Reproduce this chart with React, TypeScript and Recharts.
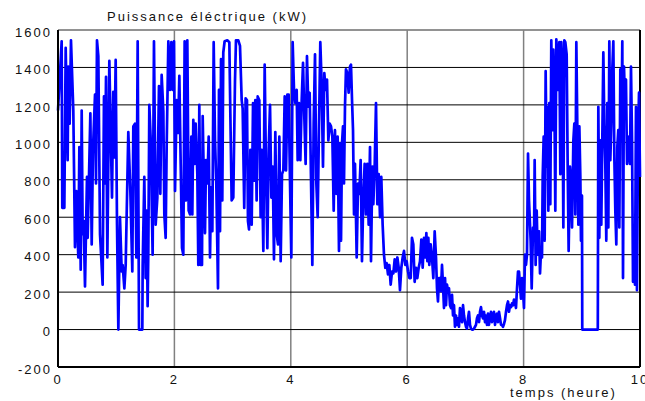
import { LineChart, Line, XAxis, YAxis, CartesianGrid, ReferenceLine } from 'recharts'

// each sample is [hour, kW]
type Sample = [number, number]

const hourTicks = [0, 2, 4, 6, 8, 10]
const kwTicks = [-200, 0, 200, 400, 600, 800, 1000, 1200, 1400, 1600]

const hours0to2: Sample[] = [
  [0.0, 1170], [0.063, 1540], [0.074, 650], [0.109, 650], [0.132, 1505], [0.166, 905], [0.178, 1405],
  [0.2, 1100], [0.223, 1545], [0.263, 1170], [0.292, 440], [0.315, 740], [0.349, 385], [0.367, 975],
  [0.39, 320], [0.407, 1170], [0.424, 510], [0.441, 580], [0.464, 230], [0.498, 815], [0.51, 490],
  [0.556, 1155], [0.579, 455], [0.601, 960], [0.636, 1255], [0.653, 780], [0.67, 1545], [0.693, 1460],
  [0.722, 510], [0.767, 240], [0.79, 1245], [0.807, 780], [0.825, 1350], [0.848, 385], [0.882, 1435],
  [0.928, 705], [0.95, 1270], [0.968, 920], [0.991, 1440], [1.014, 560], [1.037, 0], [1.065, 600],
  [1.094, 310], [1.111, 345], [1.14, 220], [1.163, 345], [1.208, 1055], [1.243, 740], [1.277, 310],
  [1.294, 1085], [1.323, 1100], [1.346, 385], [1.369, 1540], [1.392, 0], [1.449, 0], [1.455, 345],
  [1.483, 815], [1.506, 275], [1.523, 635], [1.54, 125], [1.552, 420], [1.569, 1200], [1.598, 975],
  [1.61, 690], [1.626, 400], [1.649, 1540], [1.678, 560], [1.707, 705], [1.735, 1300], [1.758, 725],
  [1.781, 1360], [1.81, 1165], [1.827, 615], [1.85, 490], [1.867, 975], [1.896, 1540], [1.924, 1280],
  [1.947, 1535], [1.97, 1280], [1.993, 1540],
]

const hours2to4: Sample[] = [
  [2.011, 740], [2.039, 1225], [2.062, 1050], [2.085, 1355], [2.108, 885], [2.131, 435], [2.153, 400],
  [2.176, 1540], [2.199, 690], [2.222, 1545], [2.245, 635], [2.268, 615], [2.291, 1030], [2.308, 615],
  [2.325, 1120], [2.348, 885], [2.365, 1100], [2.394, 830], [2.411, 345], [2.428, 1200], [2.451, 345],
  [2.474, 345], [2.486, 1140], [2.509, 740], [2.526, 515], [2.543, 905], [2.566, 780], [2.589, 1030],
  [2.612, 385], [2.629, 760], [2.652, 525], [2.675, 1535], [2.698, 1010], [2.72, 780], [2.749, 220],
  [2.766, 1280], [2.784, 525], [2.801, 1445], [2.823, 690], [2.84, 1480], [2.863, 1540], [2.909, 1545],
  [2.944, 1535], [2.961, 1155], [2.984, 690], [3.012, 705], [3.041, 1325], [3.058, 1545], [3.098, 1545],
  [3.127, 1515], [3.156, 1225], [3.173, 1180], [3.2, 650], [3.224, 1235], [3.247, 1225], [3.264, 580],
  [3.282, 535], [3.305, 960], [3.328, 560], [3.351, 1210], [3.373, 795], [3.39, 1225], [3.413, 690],
  [3.431, 1245], [3.459, 1225], [3.482, 600], [3.499, 960], [3.528, 420], [3.551, 1415], [3.574, 850],
  [3.597, 435], [3.62, 960], [3.643, 1200], [3.666, 705], [3.689, 870], [3.711, 375], [3.734, 1055],
  [3.757, 510], [3.78, 455], [3.803, 1030], [3.826, 365], [3.849, 830], [3.872, 850], [3.895, 1245],
  [3.918, 850], [3.941, 1255], [3.963, 1255], [3.986, 795],
]

const hours4to6: Sample[] = [
  [4.009, 385], [4.032, 1535], [4.055, 1280], [4.078, 1210], [4.101, 1280], [4.118, 905], [4.141, 1210],
  [4.164, 905], [4.187, 1225], [4.21, 1425], [4.232, 1140], [4.255, 885], [4.278, 1460], [4.301, 1190],
  [4.324, 1265], [4.347, 805], [4.37, 345], [4.393, 1100], [4.416, 1470], [4.439, 780], [4.462, 600],
  [4.485, 1100], [4.507, 1535], [4.53, 1315], [4.553, 870], [4.576, 1370], [4.599, 1280], [4.622, 1335],
  [4.645, 1010], [4.668, 1100], [4.691, 1085], [4.714, 1030], [4.737, 635], [4.759, 1065], [4.782, 725],
  [4.805, 1030], [4.828, 420], [4.845, 995], [4.863, 475], [4.88, 995], [4.897, 1085], [4.914, 780],
  [4.931, 1190], [4.948, 1390], [4.971, 1370], [4.994, 1265], [5.017, 1405], [5.034, 1415], [5.052, 1225],
  [5.069, 1065], [5.086, 615], [5.103, 885], [5.12, 600], [5.132, 385], [5.155, 780], [5.177, 725],
  [5.2, 905], [5.223, 365], [5.246, 705], [5.269, 885], [5.292, 615], [5.315, 885], [5.338, 560],
  [5.361, 975], [5.378, 365], [5.401, 870], [5.418, 670], [5.441, 870], [5.464, 1210], [5.487, 670],
  [5.51, 830], [5.533, 600], [5.555, 815], [5.578, 560], [5.601, 400], [5.624, 330], [5.647, 355],
  [5.67, 295], [5.693, 345], [5.716, 240], [5.739, 310], [5.762, 300], [5.785, 375], [5.808, 310],
  [5.831, 385], [5.854, 330], [5.876, 210], [5.899, 330], [5.922, 385], [5.945, 420], [5.968, 345],
  [5.991, 365],
]

const hours6to8: Sample[] = [
  [6.014, 310], [6.037, 275], [6.06, 275], [6.082, 490], [6.105, 455], [6.128, 255], [6.151, 330],
  [6.174, 275], [6.197, 330], [6.22, 365], [6.243, 480], [6.266, 330], [6.289, 490], [6.312, 385],
  [6.329, 515], [6.346, 365], [6.363, 490], [6.38, 345], [6.403, 455], [6.426, 385], [6.449, 275],
  [6.472, 525], [6.495, 385], [6.512, 220], [6.529, 150], [6.546, 275], [6.564, 275], [6.581, 205],
  [6.598, 345], [6.615, 240], [6.632, 115], [6.65, 275], [6.667, 130], [6.684, 240], [6.701, 205],
  [6.718, 220], [6.735, 130], [6.753, 115], [6.77, 185], [6.787, 75], [6.804, 130], [6.821, 15],
  [6.838, 75], [6.856, 25], [6.873, 60], [6.89, 15], [6.907, 115], [6.924, 95], [6.942, 40], [6.959, 130],
  [6.976, 75], [6.993, 40], [7.01, 15], [7.027, 5], [7.045, 60], [7.062, 95], [7.079, 25], [7.096, 5],
  [7.113, 0], [7.131, 0], [7.148, 5], [7.165, 15], [7.182, 25], [7.199, 60], [7.216, 75], [7.234, 40],
  [7.251, 95], [7.268, 120], [7.285, 75], [7.302, 60], [7.32, 95], [7.337, 40], [7.354, 75], [7.371, 25],
  [7.388, 85], [7.405, 25], [7.423, 70], [7.44, 95], [7.457, 40], [7.474, 75], [7.491, 95], [7.509, 25],
  [7.526, 75], [7.543, 85], [7.56, 40], [7.577, 95], [7.595, 60], [7.612, 25], [7.629, 25], [7.646, 15],
  [7.663, 30], [7.68, 50], [7.698, 95], [7.715, 130], [7.732, 150], [7.749, 95], [7.766, 130],
  [7.784, 120], [7.801, 140], [7.818, 130], [7.835, 160], [7.852, 150], [7.869, 115], [7.887, 220],
  [7.904, 310], [7.921, 310], [7.938, 240], [7.955, 165], [7.973, 275], [7.99, 205],
]

const hours8to10: Sample[] = [
  [8.007, 115], [8.024, 400], [8.041, 345], [8.058, 400], [8.076, 940], [8.093, 690], [8.121, 475],
  [8.139, 220], [8.162, 545], [8.179, 475], [8.19, 905], [8.207, 345], [8.225, 635], [8.242, 400],
  [8.265, 525], [8.282, 300], [8.299, 420], [8.316, 385], [8.328, 815], [8.345, 1030], [8.362, 475],
  [8.379, 1380], [8.396, 870], [8.408, 1190], [8.425, 635], [8.442, 1210], [8.459, 670], [8.476, 1545],
  [8.494, 1065], [8.511, 1495], [8.528, 1280], [8.545, 635], [8.562, 1550], [8.58, 1460], [8.597, 1280],
  [8.614, 1535], [8.631, 830], [8.648, 1535], [8.666, 1405], [8.683, 545], [8.7, 1545], [8.717, 1535],
  [8.74, 1470], [8.757, 885], [8.774, 420], [8.797, 870], [8.814, 795], [8.832, 545], [8.855, 1010],
  [8.872, 1100], [8.889, 615], [8.906, 1535], [8.923, 1085], [8.941, 560], [8.958, 1085], [8.975, 815],
  [8.986, 475], [9.003, 715], [9.008, 0], [9.275, 0], [9.284, 1190], [9.301, 490], [9.318, 1010],
  [9.335, 560], [9.352, 1010], [9.37, 1480], [9.387, 1100], [9.404, 885], [9.421, 475], [9.438, 1210],
  [9.456, 545], [9.473, 1540], [9.49, 905], [9.507, 1100], [9.524, 1390], [9.542, 1540], [9.559, 920],
  [9.576, 635], [9.593, 455], [9.61, 975], [9.627, 1065], [9.645, 545], [9.662, 1390], [9.679, 1010],
  [9.696, 1540], [9.708, 275], [9.725, 1405], [9.742, 1210], [9.759, 1335], [9.777, 885], [9.794, 1030],
  [9.811, 960], [9.828, 885], [9.845, 1405], [9.863, 1010], [9.88, 255], [9.897, 400], [9.914, 240],
  [9.931, 1190], [9.948, 210], [9.966, 1010], [9.983, 1265], [10.0, 815],
]

const data = [...hours0to2, ...hours2to4, ...hours4to6, ...hours6to8, ...hours8to10].map(([t, p]) => ({ t, p }))

const font = '"Liberation Sans", Arial, sans-serif'

export default function App() {
  return (
    <div
      style={{
        position: 'absolute',
        left: 0,
        top: 0,
        width: 645,
        height: 401,
        background: '#fff',
        fontFamily: font,
        letterSpacing: 2,
        color: '#111',
      }}
    >
      <LineChart width={645} height={401} data={data} margin={{ top: 30, right: 5, bottom: 4, left: 8 }}>
        <CartesianGrid horizontal={false} vertical stroke="#808080" strokeWidth={1.5} />
        <CartesianGrid horizontal vertical={false} stroke="#000" strokeWidth={1} />
        <ReferenceLine y={1600} stroke="#999" strokeWidth={1.5} />
        <ReferenceLine x={10} stroke="#000" strokeWidth={2} />
        <XAxis
          dataKey="t"
          type="number"
          domain={[0, 10]}
          ticks={hourTicks}
          interval={0}
          height={30}
          tickLine={false}
          axisLine={{ stroke: '#000', strokeWidth: 2 }}
          tick={{ fontSize: 13, fill: '#111' }}
        />
        <YAxis
          type="number"
          domain={[-200, 1600]}
          ticks={kwTicks}
          interval={0}
          width={50}
          tickLine={false}
          tickMargin={0}
          axisLine={{ stroke: '#000', strokeWidth: 2 }}
          tick={{ fontSize: 13, fill: '#111', dy: 2 }}
        />
        <Line
          type="linear"
          dataKey="p"
          stroke="#0000ff"
          strokeWidth={2.7}
          strokeLinejoin="round"
          dot={false}
          isAnimationActive={false}
        />
      </LineChart>
      <div style={{ position: 'absolute', left: 107, top: 9.5, fontSize: 13, lineHeight: '13px', whiteSpace: 'nowrap' }}>
        Puissance éléctrique (kW)
      </div>
      <div style={{ position: 'absolute', left: 510, top: 385.5, fontSize: 13, lineHeight: '13px', whiteSpace: 'nowrap' }}>
        temps (heure)
      </div>
    </div>
  )
}
